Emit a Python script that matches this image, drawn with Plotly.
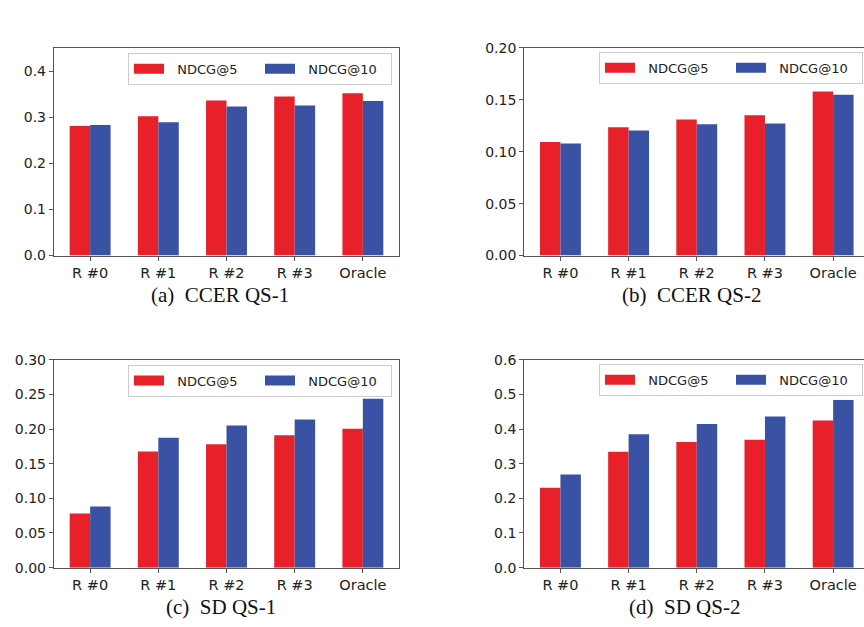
import plotly.graph_objects as go

categories = ["R #0", "R #1", "R #2", "R #3", "Oracle"]
series_names = ["NDCG@5", "NDCG@10"]

ccer_qs1_ndcg5 = [0.281, 0.302, 0.336, 0.345, 0.352]
ccer_qs1_ndcg10 = [0.283, 0.289, 0.323, 0.325, 0.335]

ccer_qs2_ndcg5 = [0.1094, 0.1235, 0.131, 0.1351, 0.158]
ccer_qs2_ndcg10 = [0.108, 0.1204, 0.1266, 0.1272, 0.155]

sd_qs1_ndcg5 = [0.0783, 0.1678, 0.178, 0.191, 0.2006]
sd_qs1_ndcg10 = [0.0881, 0.1875, 0.2053, 0.2137, 0.2437]

sd_qs2_ndcg5 = [0.2306, 0.3347, 0.363, 0.369, 0.425]
sd_qs2_ndcg10 = [0.269, 0.385, 0.415, 0.436, 0.484]

captions = ["(a)  CCER QS-1", "(b)  CCER QS-2", "(c)  SD QS-1", "(d)  SD QS-2"]

panels = [
    (ccer_qs1_ndcg5, ccer_qs1_ndcg10),
    (ccer_qs2_ndcg5, ccer_qs2_ndcg10),
    (sd_qs1_ndcg5, sd_qs1_ndcg10),
    (sd_qs2_ndcg5, sd_qs2_ndcg10),
]
y_ranges = [[0, 0.45], [0, 0.20], [0, 0.30], [0, 0.6]]
y_dticks = [0.1, 0.05, 0.05, 0.1]
y_formats = [".1f", ".2f", ".2f", ".1f"]

RED = "#e8202a"
BLUE = "#3a52a3"
AXIS = "#555555"
W, H = 864, 627

# pixel geometry of the panels
left_px = [54, 524.3, 54, 524.3]
right_px = [399, 864, 399, 864]
top_px = [41, 41, 361, 361]
bot_px = [254, 254, 574.3, 574.3]
x_ranges = [[-0.53, 4.53], [-0.53, 4.453], [-0.53, 4.53], [-0.53, 4.453]]
legend_right_px = [392, 863, 392, 863]
legend_top_px = [46, 45, 366, 365]
caption_x_px = [220, 691, 221, 684]
caption_y_px = [295, 295, 615, 615]

fig = go.Figure()
legend_ids = ["legend", "legend2", "legend3", "legend4"]
GAP = "\u00a0\u00a0"

for i, (s5, s10) in enumerate(panels):
    xa = "x" if i == 0 else f"x{i+1}"
    ya = "y" if i == 0 else f"y{i+1}"
    for vals, name, col in [(s5, series_names[0], RED), (s10, series_names[1], BLUE)]:
        fig.add_trace(go.Bar(
            x=categories, y=vals, name=name, marker=dict(color=col, line=dict(width=0)),
            xaxis=xa, yaxis=ya, showlegend=False,
        ))
    # legend-only entries drawn as wide patches (like matplotlib legend handles)
    for name, col in [(series_names[0], RED), (series_names[1], BLUE)]:
        fig.add_trace(go.Scatter(
            x=[None], y=[None], mode="lines", name=GAP + name,
            line=dict(color=col, width=10),
            xaxis=xa, yaxis=ya, legend=legend_ids[i], showlegend=True,
        ))
    xkey = "xaxis" if i == 0 else f"xaxis{i+1}"
    ykey = "yaxis" if i == 0 else f"yaxis{i+1}"
    right_panel = i in (1, 3)
    fig.layout[xkey] = dict(
        domain=[left_px[i] / W, right_px[i] / W],
        anchor=ya, type="category", range=x_ranges[i],
        showline=True, linecolor=AXIS, linewidth=1.4, mirror=True,
        ticks="outside", ticklen=4, tickwidth=1.2, tickcolor=AXIS,
        showgrid=False, zeroline=False,
        tickfont=dict(family="DejaVu Sans", size=14.5, color="#222222"),
    )
    fig.layout[ykey] = dict(
        domain=[1 - bot_px[i] / H, 1 - top_px[i] / H],
        anchor=xa, range=y_ranges[i], dtick=y_dticks[i], tick0=0,
        tickformat=y_formats[i],
        showline=True, linecolor=AXIS, linewidth=1.4, mirror=not right_panel,
        ticks="outside", ticklen=4, tickwidth=1.2, tickcolor=AXIS,
        showgrid=False, zeroline=False,
        tickfont=dict(family="DejaVu Sans", size=14, color="#222222"),
    )
    fig.layout[legend_ids[i]] = dict(
        orientation="h", x=legend_right_px[i] / W, xanchor="right",
        y=1 - legend_top_px[i] / H, yanchor="top",
        bgcolor="rgba(255,255,255,0.9)", bordercolor="#cccccc", borderwidth=1,
        font=dict(family="DejaVu Sans", size=13, color="#222222"),
        entrywidth=86, entrywidthmode="pixels",
        itemwidth=30, tracegroupgap=0,
    )
    fig.add_annotation(
        text=captions[i], xref="paper", yref="paper",
        x=caption_x_px[i] / W, y=1 - caption_y_px[i] / H,
        xanchor="center", yanchor="middle", showarrow=False,
        font=dict(family="Liberation Serif", size=21, color="#111111"),
    )

fig.update_layout(
    width=W, height=H, margin=dict(l=0, r=0, t=0, b=0),
    paper_bgcolor="white", plot_bgcolor="white",
    barmode="group", bargap=0.4, bargroupgap=0,
)

fig.write_html("out.html")
